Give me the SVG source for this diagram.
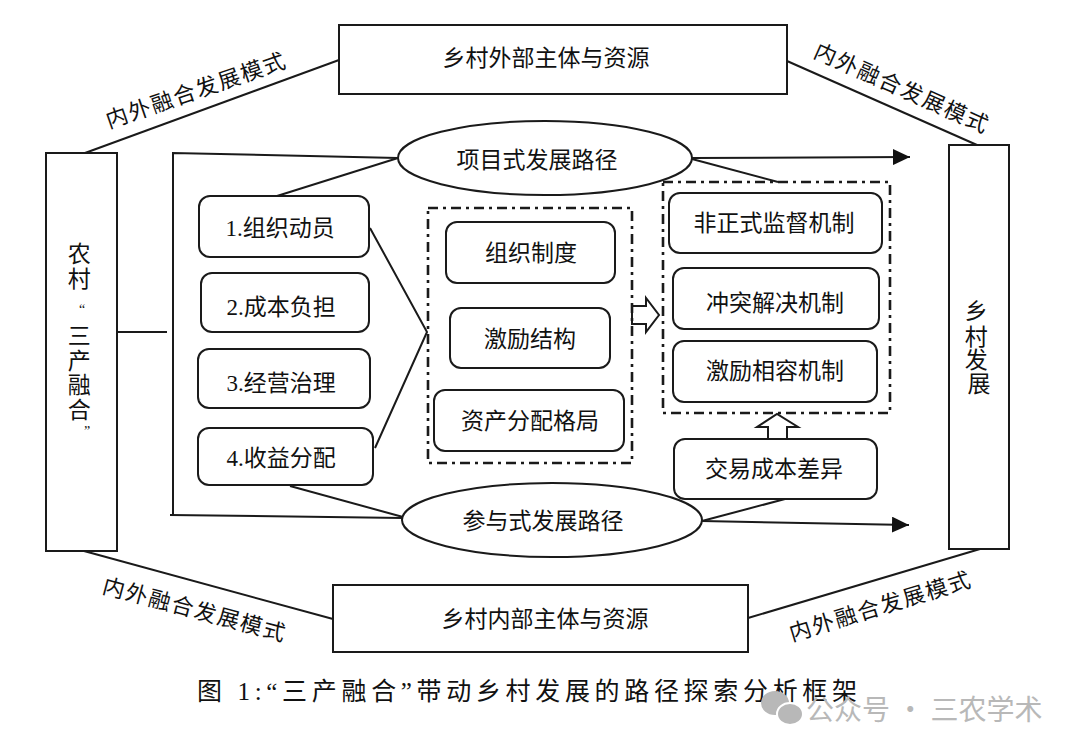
<svg xmlns="http://www.w3.org/2000/svg" width="1079" height="751" viewBox="0 0 1079 751">
<style>
.box{fill:#fff;stroke:#1a1a1a;stroke-width:2}
.rbox{fill:#fff;stroke:#1a1a1a;stroke-width:2}
.dash{fill:none;stroke:#1a1a1a;stroke-width:2.6;stroke-dasharray:10 5 3 5}
.ln{fill:none;stroke:#1a1a1a;stroke-width:2}
.t{font-family:"Liberation Serif","Noto Sans CJK SC",sans-serif;font-size:23px;fill:#111;text-anchor:middle}
.tl{font-family:"Noto Sans CJK SC",sans-serif;font-size:22px;fill:#111;text-anchor:middle}
.hollow{fill:#fff;stroke:#1a1a1a;stroke-width:2;stroke-linejoin:miter}
</style>
<defs>
<marker id="ah" viewBox="0 0 17 16" refX="17" refY="8" markerWidth="17" markerHeight="16" markerUnits="userSpaceOnUse" orient="auto">
<path d="M0,0 L17,8 L0,16 Z" fill="#111"/>
</marker>
</defs>
<rect width="1079" height="751" fill="#fff"/>

<g id="connectors">
<line class="ln" x1="85" y1="153" x2="339" y2="60"/>
<line class="ln" x1="787" y1="61" x2="977" y2="145"/>
<line class="ln" x1="84" y1="551" x2="333" y2="619"/>
<line class="ln" x1="748" y1="618" x2="980" y2="549"/>
<line class="ln" x1="117" y1="332" x2="167" y2="332"/>
<polyline class="ln" points="398,158 173,153 173,515"/>
<line class="ln" x1="170" y1="515" x2="403" y2="518"/>
<line class="ln" x1="277" y1="196" x2="398" y2="158"/>
<line class="ln" x1="290" y1="486" x2="403" y2="517"/>
<polyline class="ln" points="370,228 427,332 375,448"/>
<line class="ln" x1="692" y1="159" x2="778" y2="182"/>
<line class="ln" x1="692" y1="158" x2="910" y2="157" marker-end="url(#ah)"/>
<line class="ln" x1="785" y1="499" x2="702" y2="521"/>
<line class="ln" x1="702" y1="521" x2="909" y2="525" marker-end="url(#ah)"/>
<polygon class="hollow" points="632,306 646,306 646,298 659,315 646,332 646,324 632,324"/>
<polygon class="hollow" points="768,439 768,427 757,427 777,414 798,427 787,427 787,439"/>
</g>

<g id="label-tl"><text class="tl" transform="translate(198,98) rotate(-19)" textLength="188" lengthAdjust="spacing">内外融合发展模式</text></g>
<g id="label-tr"><text class="tl" transform="translate(898,95) rotate(24)" textLength="188" lengthAdjust="spacing">内外融合发展模式</text></g>
<g id="label-bl"><text class="tl" transform="translate(192,617) rotate(15)" textLength="188" lengthAdjust="spacing">内外融合发展模式</text></g>
<g id="label-br"><text class="tl" transform="translate(882,614) rotate(-17)" textLength="188" lengthAdjust="spacing">内外融合发展模式</text></g>

<g id="node-external">
<rect class="box" x="339" y="25" width="448" height="69"/>
<text class="t" x="546" y="66">乡村外部主体与资源</text>
</g>
<g id="node-internal">
<rect class="box" x="333" y="585" width="415" height="67"/>
<text class="t" x="545" y="627">乡村内部主体与资源</text>
</g>
<g id="node-rural">
<rect class="box" x="46" y="153" width="71" height="398"/>
<text class="t">
<tspan x="82" y="262">农</tspan>
<tspan x="82" y="287">村</tspan>
<tspan x="85" y="314" font-size="14">“</tspan>
<tspan x="82" y="344">三</tspan>
<tspan x="82" y="369">产</tspan>
<tspan x="82" y="393">融</tspan>
<tspan x="82" y="418">合</tspan>
<tspan x="87" y="436" font-size="14">”</tspan>
</text>
</g>
<g id="node-dev">
<rect class="box" x="949" y="145" width="60" height="404"/>
<text class="t">
<tspan x="979" y="319">乡</tspan>
<tspan x="979" y="345">村</tspan>
<tspan x="979" y="368">发</tspan>
<tspan x="979" y="392">展</tspan>
</text>
</g>

<g id="node-project">
<ellipse class="box" cx="545" cy="158" rx="147" ry="37"/>
<text class="t" x="537" y="168">项目式发展路径</text>
</g>
<g id="node-participate">
<ellipse class="box" cx="552" cy="520" rx="150" ry="37"/>
<text class="t" x="543" y="529">参与式发展路径</text>
</g>

<g id="node-i1"><rect class="rbox" x="199" y="196" width="170" height="61" rx="11"/><text class="t" x="280" y="236">1.组织动员</text></g>
<g id="node-i2"><rect class="rbox" x="201" y="273" width="168" height="59" rx="11"/><text class="t" x="281" y="315">2.成本负担</text></g>
<g id="node-i3"><rect class="rbox" x="198" y="349" width="172" height="59" rx="11"/><text class="t" x="281" y="391">3.经营治理</text></g>
<g id="node-i4"><rect class="rbox" x="198" y="428" width="175" height="57" rx="11"/><text class="t" x="281" y="466">4.收益分配</text></g>

<g id="group-mid">
<rect class="dash" x="428" y="208" width="204" height="255"/>
</g>
<g id="node-m1"><rect class="rbox" x="446" y="222" width="169" height="61" rx="11"/><text class="t" x="531" y="261">组织制度</text></g>
<g id="node-m2"><rect class="rbox" x="450" y="308" width="160" height="60" rx="11"/><text class="t" x="530" y="347">激励结构</text></g>
<g id="node-m3"><rect class="rbox" x="434" y="390" width="190" height="61" rx="11"/><text class="t" x="530" y="429">资产分配格局</text></g>

<g id="group-right">
<rect class="dash" x="663" y="182" width="227" height="231"/>
</g>
<g id="node-r1"><rect class="rbox" x="669" y="193" width="213" height="60" rx="11"/><text class="t" x="774" y="231">非正式监督机制</text></g>
<g id="node-r2"><rect class="rbox" x="673" y="268" width="206" height="61" rx="11"/><text class="t" x="775" y="311">冲突解决机制</text></g>
<g id="node-r3"><rect class="rbox" x="673" y="341" width="204" height="61" rx="11"/><text class="t" x="775" y="379">激励相容机制</text></g>
<g id="node-cost"><rect class="rbox" x="674" y="439" width="203" height="60" rx="11"/><text class="t" x="774" y="477">交易成本差异</text></g>

<g id="caption">
<text x="197" y="700" font-family="'Liberation Serif','Noto Sans CJK SC',serif" font-size="25" fill="#111" textLength="660" lengthAdjust="spacing">图 1:“三产融合”带动乡村发展的路径探索分析框架</text>
</g>
<g id="watermark" fill="#b8b8b8">
<ellipse cx="775" cy="703" rx="14" ry="12"/>
<ellipse cx="790" cy="714" rx="13" ry="11" stroke="#fff" stroke-width="2"/>
<text x="806" y="720" font-family="'Noto Sans CJK SC',sans-serif" font-size="28">公众号 · 三农学术</text>
</g>
</svg>
